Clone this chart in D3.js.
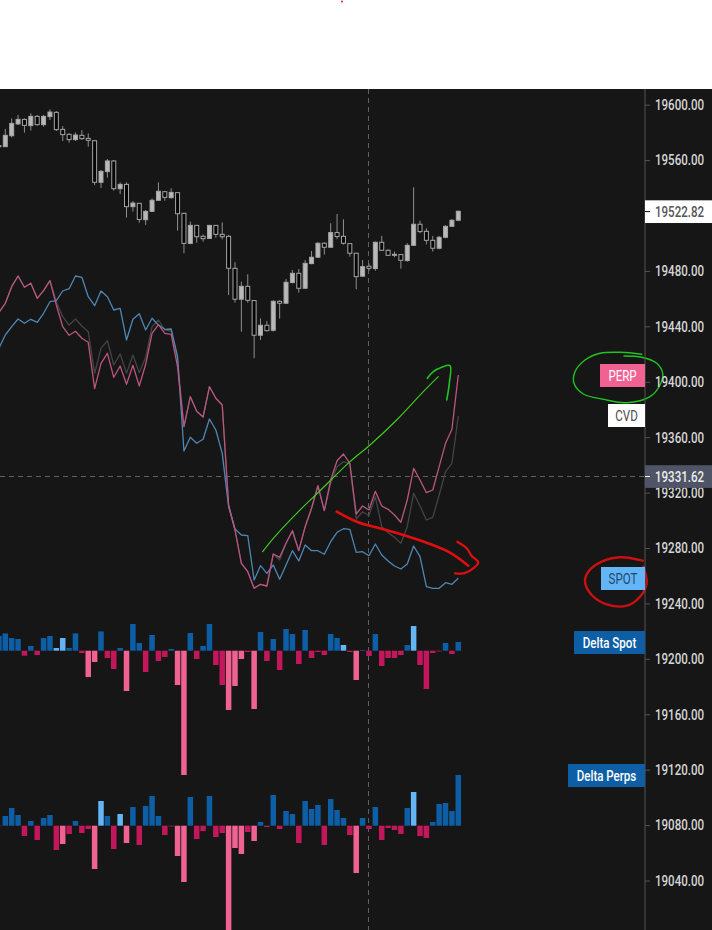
<!DOCTYPE html>
<html><head><meta charset="utf-8">
<style>html,body{margin:0;padding:0;background:#fff}svg{display:block}text{font-family:Roboto,sans-serif}</style>
<script src="https://cdn.jsdelivr.net/npm/d3@7"></script></head><body>
<svg id="c" width="712" height="930"></svg>
<script>
const priceTicks=[19600,19560,19480,19440,19400,19360,19320,19280,19240,19200,19160,19120,19080,19040];
const lastPrice=19522.82, crossPrice=19331.62;
// candles (index 0 is the cut-off one at the left edge)
const opens=[19569.7,19569.7,19577.6,19586.1,19589.4,19584.9,19591.6,19585.6,19591.4,19594.5,19582.2,19578.6,19574.8,19577.9,19575.7,19574.0,19544.0,19551.7,19559.4,19539.4,19542.5,19526.4,19528.8,19517.0,19523.0,19531.0,19537.2,19532.9,19536.5,19521.6,19499.9,19512.9,19505.0,19503.5,19512.9,19506.4,19505.0,19481.9,19459.6,19468.9,19458.6,19433.6,19440.8,19437.2,19458.1,19456.7,19471.6,19478.3,19467.5,19485.3,19489.9,19500.0,19497.1,19507.7,19505.0,19499.7,19492.8,19476.2,19483.4,19481.7,19500.7,19494.9,19492.0,19491.8,19487.5,19498.5,19513.7,19508.6,19502.1,19496.4,19504.3,19512.2,19516.6];
const closes=[19570.4,19577.9,19586.5,19589.4,19585.1,19591.6,19585.6,19591.6,19594.7,19582.0,19578.4,19574.8,19578.1,19575.5,19574.3,19544.0,19551.9,19559.4,19539.4,19542.5,19526.4,19529.0,19517.2,19523.0,19531.0,19537.5,19533.1,19536.7,19521.3,19499.9,19512.9,19504.7,19503.3,19512.9,19506.4,19504.7,19481.9,19459.6,19468.9,19458.8,19433.6,19440.8,19436.9,19458.1,19456.7,19471.8,19478.3,19467.5,19485.5,19489.9,19500.0,19497.1,19507.7,19504.8,19500.0,19492.8,19475.9,19483.1,19481.9,19500.7,19494.9,19491.3,19491.3,19487.7,19498.5,19513.7,19508.4,19502.1,19496.4,19504.3,19512.2,19516.6,19523.1];
const highs=[19570.4,19582.5,19590.1,19592.6,19590.1,19593.8,19592.6,19592.6,19596.6,19595.4,19584.6,19579.3,19580.0,19581.7,19579.3,19574.5,19552.9,19560.8,19560.1,19544.0,19544.0,19530.5,19528.8,19524.0,19532.4,19544.0,19537.5,19539.6,19536.7,19521.6,19515.6,19512.9,19506.4,19512.9,19512.9,19515.1,19505.9,19486.3,19472.3,19477.6,19458.8,19445.8,19443.9,19458.8,19458.8,19474.2,19480.7,19481.4,19487.9,19494.4,19500.7,19500.7,19514.4,19521.1,19517.3,19500.0,19492.8,19487.9,19485.5,19501.2,19505.3,19495.6,19494.0,19492.0,19500.0,19540.4,19516.3,19510.8,19505.3,19505.3,19513.0,19517.3,19523.5];
const lows=[19569.7,19569.7,19576.4,19585.3,19579.8,19581.3,19584.9,19584.1,19589.0,19581.0,19573.8,19572.6,19573.8,19574.5,19569.7,19542.0,19539.9,19547.3,19537.9,19535.5,19518.5,19522.8,19514.8,19513.2,19522.8,19530.7,19530.7,19532.2,19509.1,19492.7,19499.2,19500.4,19501.1,19503.1,19504.0,19502.8,19462.6,19457.1,19436.2,19457.1,19417.0,19430.2,19436.2,19436.2,19445.6,19456.4,19471.1,19464.4,19467.2,19484.8,19489.4,19491.8,19496.8,19502.9,19499.0,19490.3,19466.8,19475.9,19480.2,19480.2,19494.7,19490.8,19489.9,19481.7,19486.7,19498.0,19507.2,19499.2,19494.0,19495.6,19503.6,19512.0,19515.9];
// normalised CVD lines (no printed scale)
const cvdPerp=[617.7,626.7,643.3,654,642.7,646.7,631.7,639.3,649.3,625,603.3,594.7,598.7,591.7,587.7,541.3,566.7,576.7,552.7,564,545.7,564.7,544,565.7,596.7,605.3,596.7,595.7,563.3,503.3,533.3,518.7,513,543.3,531.7,525,425,400,366.7,358.3,341.7,345.7,344,376,372.7,386.7,399.3,379.3,403.3,421.7,444.3,419.3,450,469.3,476,466.7,416,424,420,438.7,424,420.7,415,407.7,430,461.7,450,437.3,440,463.3,486.7,500.7,555];
const cvdSpot=[581.7,595,603.3,611,606.7,610.7,607.7,616.7,628.3,629.3,639,641.3,654,652.7,633.3,624.3,639,633.3,620,621.7,590,610.7,616.3,600,611.7,605,600.7,601,573.3,479,492.7,486.7,490.7,511,500,476.7,423.3,401,395,394.3,350,364.3,356.7,365,350.7,365,379.3,369,385,379.3,379.3,375.7,388.3,397.7,401.3,400.7,377.7,378.3,374.3,386,375,369,364,361,366,384,373.3,343.3,341.7,341.7,347.3,345.7,351.7];
const cvdTotal=[617.7,626.7,643.3,654,642.7,646.7,631.7,639.3,649.3,628.3,613.3,605,611,604,598.3,556.7,581.7,589.3,565,576,556.7,575,557.3,572.7,603.3,610,600,599,570,503.3,533.3,518.7,513,543.3,531.7,525,425,400,366.7,358.3,341.7,345.7,344,376,370,386.7,399.3,379.3,403.3,421.7,444.3,419.3,446.7,463.3,468.3,466,411,418.3,414.3,433.3,403.3,397.3,392.7,386.7,403.3,436.7,424,410,412.7,435,458.3,466.7,514];
// delta histograms
const deltaSpot=[14.7,17.3,12.7,11.7,-5,4.7,-4.3,12.7,14.7,2.7,12.7,2.7,17.3,-2.3,-26.3,-11.3,19.3,-7.3,-18.3,2.7,-40.3,26.7,7.7,-21.3,15.7,-10.3,-6.3,1.7,-34.3,-124.3,17.7,-8.3,4.7,26.7,-14.3,-34.3,-59.3,-35.3,-8.3,-1.3,-58.3,18.7,-10.3,11.7,-19.3,21.7,16.7,-13.3,20.7,-7.3,-1.3,-4.3,16.7,12.7,5.7,-1.3,-29.3,0.7,-5.3,16.7,-15.3,-7.3,-7.3,-4.3,5.7,24.7,-14.3,-38.3,-2.3,-0.7,7.7,-3.3,8.7];
const spotStrong=[0,0,0,0,0,0,0,0,0,1,1,0,0,0,1,1,0,0,0,0,1,0,0,0,0,0,0,0,1,1,0,0,0,0,0,0,1,1,1,0,1,0,0,0,0,0,0,0,0,0,0,0,0,0,1,0,1,0,0,0,0,0,0,0,0,1,0,0,0,0,0,0,0];
const deltaPerp=[-0.5,9.7,17.7,10.7,-10.3,4.7,-14.3,7.7,10.7,-24.3,-18.3,-8.3,4.7,-7.3,-3.3,-43.3,24.7,9.7,-23.3,11.7,-17.3,18.7,-19.3,19.7,29.7,9.7,-9.3,-0.7,-30.3,-56.3,28.7,-13.3,-5.3,29.7,-11.3,-7.3,-108,-22.3,-28.3,-6.3,-15.3,3.7,-1.3,30.7,-3.3,14.7,11.7,-17.3,24.7,16.7,20.7,-19.3,26.7,15.7,7.7,-9.3,-47.3,7.7,-3.3,18.7,-14.3,-2.3,-4.3,-8.3,17.7,33.7,-10.3,-12.3,3.7,21.7,22.7,14.7,50.7];
const perpStrong=[0,0,0,0,0,0,0,0,0,0,1,0,0,0,0,1,1,0,0,1,1,0,0,0,0,0,0,0,1,1,0,0,0,0,0,0,1,1,1,0,1,0,0,0,0,0,0,0,0,0,0,0,0,0,0,0,1,0,0,0,0,0,0,0,0,1,0,0,0,0,0,0,0];
// freehand annotations drawn on the screenshot
const greenStroke=[[262.7,551.7],[273.3,538.3],[296.7,513.3],[316.7,494],[350,461.7],[370,445],[396.7,420],[423.3,391.7],[438.3,376.7]];
const greenHead=[[427.3,378.3],[433.3,371.7],[441.7,367.3],[450,365.7],[449.3,383.3],[446.7,400]];
const greenLoop=[[624,356],[641.7,357.3],[656.7,363.3],[662.7,373.3],[660,385],[650,396.7],[626.7,402.7],[603.3,399.3],[583.3,394],[574,383.3],[575,371.7],[585,360],[600,353.3],[620,352.3],[641.7,354.3]];
const redStroke=[[336.7,511.7],[356.7,521.7],[383.3,529.3],[403.3,535],[430,544],[450,552.7],[468.3,565.7]];
const redHead=[[457.3,541.7],[466.7,548.3],[471.7,556],[478.3,562.3],[470,570.7],[463.3,573.3],[455,573.3]];
const redLoop=[[642.7,560.7],[620,557.3],[601.7,561.7],[588.3,571.7],[585,581.7],[591.7,595],[606.7,604.3],[626.7,605.7],[640,596.7],[646.7,583.3],[643.3,566.7]];
// tags on the price axis
const tags=[
 {t:"PERP",x:600,y:364,w:45,h:23,fill:"#f06292",color:"#fff"},
 {t:"CVD",x:608,y:404,w:37,h:23,fill:"#ffffff",color:"#4a4a4a"},
 {t:"SPOT",x:601,y:567,w:44,h:23,fill:"#64b5f6",color:"#1c4a70"},
 {t:"Delta Spot",x:574,y:631,w:71,h:23,fill:"#0e5ea6",color:"#fff"},
 {t:"Delta Perps",x:568,y:764,w:77,h:23,fill:"#0e5ea6",color:"#fff"}];

const svg=d3.select("#c");
const W=712,H=930,paneTop=89,axisX=645,crossX=368.5,squeeze=0.77;
const x=d3.scaleLinear().domain([0,72]).range([-1.08,458.3]);
const y=d3.scaleLinear().domain([19600,19040]).range([104.7,880.5]);
const yCvd=d3.scaleLinear().domain([0,930]).range([930,0]);
const dSpot=d3.scaleLinear().domain([-1,1]).range([651.7,649.7]);
const dPerp=d3.scaleLinear().domain([-1,1]).range([826.7,824.7]);

svg.append("rect").attr("width",W).attr("height",H).attr("fill","#fff");
svg.append("rect").attr("y",paneTop).attr("width",W).attr("height",H-paneTop).attr("fill","#161616");
svg.append("circle").attr("cx",342).attr("cy",1.5).attr("r",1).attr("fill","#e81818");

// cross-hair
const crossCol="#606060";
svg.append("line").attr("x1",crossX).attr("x2",crossX).attr("y1",paneTop).attr("y2",H).attr("stroke",crossCol).attr("stroke-dasharray","5 4");
svg.append("line").attr("x1",0).attr("x2",axisX).attr("y1",y(crossPrice)).attr("y2",y(crossPrice)).attr("stroke",crossCol).attr("stroke-dasharray","5 4");

// histograms
function hist(vals,strong,sc){
  svg.append("g").selectAll("rect").data(vals).join("rect")
    .attr("x",(d,i)=>x(i)-2.75).attr("width",5.5)
    .attr("y",d=>sc(Math.max(0,d))).attr("height",d=>Math.abs(sc(d)-sc(0)))
    .attr("fill",(d,i)=>d>=0?(strong[i]?"#64b5f6":"#0e5ea6"):(strong[i]?"#f06292":"#c2185b"));
}
hist(deltaSpot,spotStrong,dSpot);
hist(deltaPerp,perpStrong,dPerp);

// CVD lines
const ln=d3.line().x((d,i)=>x(i)).y(d=>yCvd(d));
[[cvdTotal,"#444444"],[cvdSpot,"#4d87b5"],[cvdPerp,"#bb5580"]].forEach(([v,c])=>{
  svg.append("path").attr("d",ln(v)).attr("fill","none").attr("stroke",c).attr("stroke-width",1.3).attr("stroke-linejoin","round");
});

// candles
const cg=svg.append("g").selectAll("g").data(d3.range(opens.length)).join("g");
cg.append("line").attr("x1",i=>x(i)).attr("x2",i=>x(i)).attr("y1",i=>y(highs[i])).attr("y2",i=>y(lows[i])).attr("stroke","#8f8f8f").attr("stroke-width",1);
cg.append("rect").attr("x",i=>x(i)-2).attr("width",4)
  .attr("y",i=>y(Math.max(opens[i],closes[i]))).attr("height",i=>Math.max(1,Math.abs(y(opens[i])-y(closes[i]))))
  .attr("fill",i=>closes[i]>=opens[i]?"#b9b9b9":"#050505").attr("stroke","#a6a6a6").attr("stroke-width",1);

// freehand
const free=d3.line().curve(d3.curveCatmullRom.alpha(.5));
[[greenStroke,"#3fd01f",1.1],[greenHead,"#1fc41f",1.6],[greenLoop,"#1fc41f",1.4],[redStroke,"#e00f0f",2.6],[redHead,"#e00f0f",2.2],[redLoop,"#cc1010",2.4]].forEach(([p,c,w])=>{
  svg.append("path").attr("d",free(p)).attr("fill","none").attr("stroke",c).attr("stroke-width",w).attr("stroke-linecap","round");
});

// price axis
const axis=d3.axisRight(y).tickValues(priceTicks).tickSize(5).tickPadding(5).tickFormat(d3.format(".2f"));
const ag=svg.append("g").attr("transform",`translate(${axisX},0)`).call(axis);
ag.select(".domain").remove();
ag.selectAll(".tick line").attr("stroke","#555");
ag.selectAll(".tick text").attr("x",0).attr("fill","#d6d6d6").attr("font-size",15).attr("font-weight",500).attr("font-family","Roboto")
  .attr("transform",`translate(10,0) scale(${squeeze},1)`);
svg.append("line").attr("x1",axisX).attr("x2",axisX).attr("y1",paneTop).attr("y2",H).attr("stroke","#555");

// price boxes
function priceBox(v,fill,col,tick){
  const yy=y(v);
  svg.append("rect").attr("x",axisX).attr("y",yy-11.3).attr("width",W-axisX).attr("height",22.7).attr("fill",fill);
  svg.append("line").attr("x1",axisX).attr("x2",axisX+5).attr("y1",yy).attr("y2",yy).attr("stroke",tick);
  svg.append("text").attr("transform",`translate(${axisX+10},${yy}) scale(${squeeze},1)`).attr("dy","0.35em").attr("fill",col).attr("font-size",15).attr("font-weight",500).text(d3.format(".2f")(v));
}
priceBox(lastPrice,"#ffffff","#555","#000");
priceBox(crossPrice,"#4f5566","#eee","#fff");

// tags
tags.forEach(d=>{
  svg.append("rect").attr("x",d.x).attr("y",d.y).attr("width",d.w).attr("height",d.h).attr("fill",d.fill);
  svg.append("text").attr("transform",`translate(${d.x+d.w/2},${d.y+d.h/2}) scale(${squeeze},1)`).attr("dy","0.35em").attr("text-anchor","middle")
    .attr("fill",d.color).attr("font-size",15).attr("font-weight",d.t.startsWith("Delta")?500:400).text(d.t);
});
</script></body></html>
